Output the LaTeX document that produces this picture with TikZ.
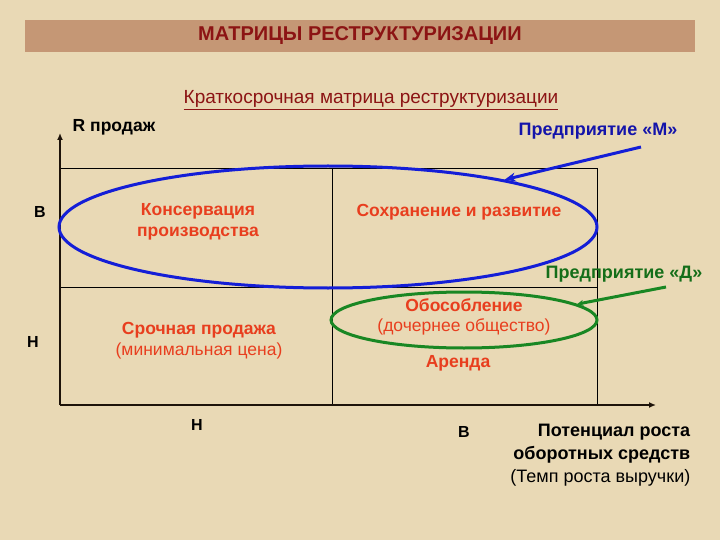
\documentclass[tikz,border=0pt]{standalone}
\usepackage{fontspec}
\setmainfont{Liberation Sans}
\usetikzlibrary{shapes.geometric,arrows.meta,positioning}
\definecolor{parchment}{RGB}{233,217,181}
\definecolor{barbrown}{RGB}{197,151,117}
\definecolor{titlered}{RGB}{140,20,20}
\definecolor{cellred}{RGB}{232,62,30}
\definecolor{ringblue}{RGB}{20,30,215}
\definecolor{textblue}{RGB}{20,20,170}
\definecolor{ringgreen}{RGB}{25,135,35}
\definecolor{textgreen}{RGB}{20,110,25}
\begin{document}
\begin{tikzpicture}[x=1pt, y=-1pt, thick,
  cell/.style = {text=cellred, align=center, font=\fontsize{17.5}{21}\selectfont},
  axislabel/.style = {font=\bfseries\fontsize{16}{19}\selectfont},
  grid/.style = {draw=black, line width=0.8pt},
  axis/.style = {draw=black!85!brown, line width=2pt, -{Latex[length=7pt,width=6pt]}},
  ring/.style = {draw, ellipse, line width=3pt, inner sep=0pt},
  firm/.style = {font=\bfseries\fontsize{18}{21}\selectfont, anchor=east}]
\fill[parchment] (0,0) rectangle (720,540);
\useasboundingbox (0,0) rectangle (720,540);

% title
\node[fill=barbrown, minimum width=670, minimum height=32, text=titlered,
  font=\bfseries\fontsize{20}{24}\selectfont] (title) at (360,36) {МАТРИЦЫ РЕСТРУКТУРИЗАЦИИ};
\node[text=titlered, font=\fontsize{19}{22}\selectfont] (sub) at (371,100)
  {\underline{Краткосрочная матрица реструктуризации}};

% grid and axes
\coordinate (O) at (60,405);
\coordinate (ytop) at (60,133);
\coordinate (xend) at (656,405);
\coordinate (tl) at (60,168);
\coordinate (tr) at (597,168);
\coordinate (br) at (597,405);
\coordinate (tm) at (332,168);
\coordinate (bm) at (332,405);
\coordinate (ml) at (60,287);
\coordinate (mr) at (597,287);
\draw[grid] (tl) -- (tr) -- (br);
\draw[grid] (tm) -- (bm);
\draw[grid] (ml) -- (mr);
\draw[axis] (O) -- (ytop);
\draw[axis] (O) -- (xend);

\node[axislabel, anchor=west, font=\bfseries\fontsize{17.5}{20}\selectfont] (rlabel) at (69,127) {R продаж};
\node[axislabel] (vleft) at (40,212) {В};
\node[axislabel] (nleft) at (33,342) {Н};
\node[axislabel] (nbot) at (197,425) {Н};
\node[axislabel] (vbot) at (464,432) {В};
\node[align=right, anchor=east, font=\fontsize{18}{23}\selectfont] (xlabel) at (694,455)
  {\textbf{Потенциал роста}\\ \textbf{оборотных средств}\\ (Темп роста выручки)};

% cells
\node[cell, font=\bfseries\fontsize{17.5}{21}\selectfont] (conserv) at (198,222) {Консервация\\производства};
\node[cell, font=\bfseries\fontsize{17.5}{21}\selectfont] (keep) at (459,212) {Сохранение и развитие};
\node[cell] (sale) at (199,341) {\textbf{Срочная продажа}\\(минимальная цена)};
\node[cell, font=\fontsize{17.5}{19.5}\selectfont] (separ) at (464,317) {\textbf{Обособление}\\(дочернее общество)};
\node[cell, font=\bfseries\fontsize{17.5}{21}\selectfont] (rent) at (458,363) {Аренда};

% enterprises
\node[ring, draw=ringblue, minimum width=538, minimum height=122] (M) at (328,227) {};
\node[ring, draw=ringgreen, minimum width=266, minimum height=56] (D) at (464,320) {};
\node[firm, text=textblue] (Mlabel) at (681,131) {Предприятие «М»};
\node[firm, text=textgreen] (Dlabel) at (706,274) {Предприятие «Д»};
\coordinate (Mstart) at (641,147);
\coordinate (Dstart) at (666,287);
\draw[ringblue, line width=3pt, -{Stealth[length=11pt,width=9pt]}] (Mstart) -- (M.15);
\draw[ringgreen, line width=3pt, -{Stealth[length=6pt,width=6pt]}] (Dstart) -- (D.8);
\end{tikzpicture}
\end{document}
